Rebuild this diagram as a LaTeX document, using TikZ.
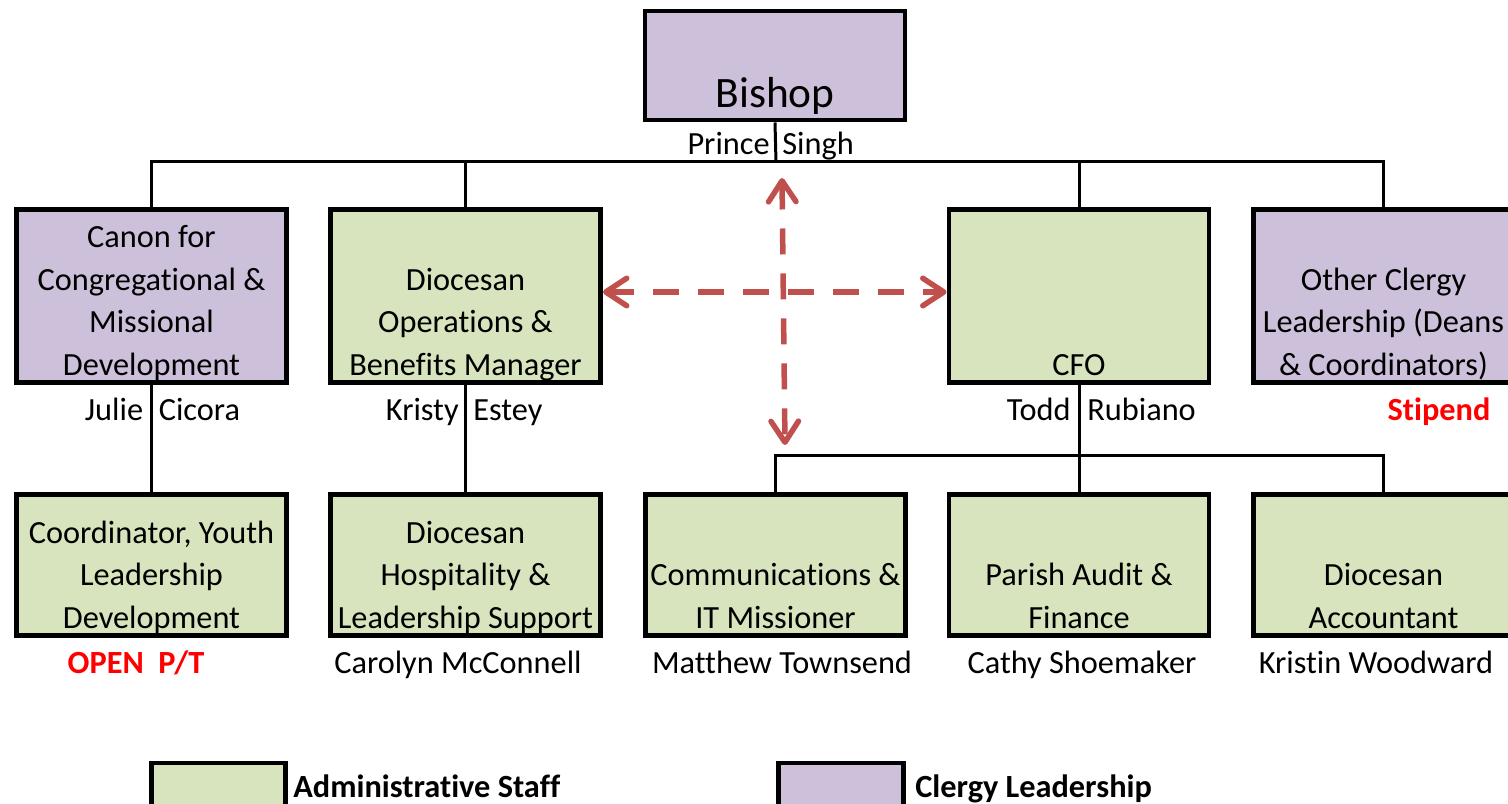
\documentclass[tikz,border=0pt]{standalone}
\usepackage{fontspec}
\setmainfont{Carlito}[Ligatures=NoCommon]
\usetikzlibrary{positioning}
\usetikzlibrary{arrows.meta}

\definecolor{adminfill}{HTML}{D7E4BD}
\definecolor{clergyfill}{HTML}{CCC0DA}
\definecolor{linkred}{HTML}{C0504D}
\definecolor{notered}{HTML}{FF0000}

\newcommand{\boxfont}{\fontsize{18.4}{24.4}\selectfont}
\newcommand{\bigfont}{\fontsize{24.7}{26}\selectfont}
\newcommand{\keyfont}{\fontsize{18.4}{22}\selectfont\bfseries}

\begin{document}
\begin{tikzpicture}[x=0.02cm, y=-0.02cm,
			unit/.style={draw, line width=0.09cm, inner sep=0pt, minimum width=5.41cm, minimum height=3.47cm},
			narrow/.style={unit, minimum width=5.21cm},
			low/.style={minimum height=2.83cm},
			admin/.style={fill=adminfill},
			clergy/.style={fill=clergyfill},
			title/.style={anchor=south, align=center, inner sep=0pt, yshift=-0.08cm, font=\boxfont, execute at end node=\strut},
			person/.style={anchor=base, inner sep=0pt, font=\boxfont},
			vacant/.style={person, font=\boxfont\bfseries, text=notered},
			conn/.style={draw, line width=0.06cm},
			link/.style={draw=linkred, line width=0.11cm, dash pattern=on 0.52cm off 0.38cm,
				{Straight Barb[round,length=0.42cm,width=0.55cm]}-{Straight Barb[round,length=0.42cm,width=0.55cm]}}]
			\useasboundingbox (0,0) rectangle (1508,804);
			% top
			\node[narrow, clergy, minimum height=2.19cm, label={[title, font=\bigfont, yshift=0.1cm]south:Bishop}] (bishop) at (775,65.5) {};
			% first row
			\node[unit, clergy, label={[title]south:{Canon for\\Congregational \&\\Missional\\Development}}] (canon) at (151.5,296) {};
			\node[unit, admin, label={[title]south:{Diocesan\\Operations \&\\Benefits Manager}}] (ops) at (465.5,296) {};
			\node[narrow, admin, label={[title]south:{CFO}}] (cfo) at (1079,296) {};
			\node[narrow, clergy, label={[title]south:{Other Clergy\\Leadership (Deans\\\& Coordinators)}}] (other) at (1383.5,296) {};
			% second row
			\node[unit, low, admin, label={[title]south:{Coordinator, Youth\\Leadership\\Development}}] (youth) at (151.5,565) {};
			\node[unit, low, admin, label={[title]south:{Diocesan\\Hospitality \&\\Leadership Support}}] (hosp) at (465.5,565) {};
			\node[narrow, low, admin, label={[title]south:{Communications \&\\IT Missioner}}] (comm) at (775.5,565) {};
			\node[narrow, low, admin, label={[title]south:{Parish Audit \&\\Finance}}] (audit) at (1079,565) {};
			\node[narrow, low, admin, label={[title]south:{Diocesan\\Accountant}}] (acct) at (1383.5,565) {};
			% connectors
			\coordinate (bus) at (776,162);
			\coordinate (bus2) at (1079,455);
			\path[conn] (bishop.south) -- (bus);
			\path[conn] (canon.north) |- (bus) -| (other.north);
			\path[conn] (ops.north) -- (ops.north |- bus);
			\path[conn] (cfo.north) -- (cfo.north |- bus);
			\path[conn] (canon) -- (youth);
			\path[conn] (ops) -- (hosp);
			\path[conn] (cfo) -- (audit);
			\path[conn] (comm.north) |- (bus2) -| (acct.north);
			% dashed links
			\coordinate (uptip) at (782,178);
			\coordinate (downtip) at (785,445);
			\path[link] ([yshift=0.08cm]ops.east) -- ([yshift=0.08cm]cfo.west);
			\path[link] (uptip) -- (downtip);
			% names
			\node[person, anchor=base east] (prince) at (770,155) {Prince};
			\node[person, anchor=base west] (singh) at (782,155) {Singh};
			\node[person, anchor=base east] (julie) at (143.5,420) {Julie};
			\node[person, anchor=base west] (cicora) at (158.5,420) {Cicora};
			\node[person, anchor=base east] (kristy) at (459,420) {Kristy};
			\node[person, anchor=base west] (estey) at (473,420) {Estey};
			\node[person, anchor=base east] (todd) at (1071,420) {Todd};
			\node[person, anchor=base west] (rubiano) at (1087,420) {Rubiano};
			\node[vacant] (stipend) at (1439,420) {Stipend};
			\node[vacant] (open) at (136,673) {OPEN\ \ P/T};
			\node[person] (carolyn) at (458,673) {Carolyn McConnell};
			\node[person] (matthew) at (782,673) {Matthew Townsend};
			\node[person] (cathy) at (1082,673) {Cathy Shoemaker};
			\node[person] (kristin) at (1376,673) {Kristin Woodward};
			% key
			\node[draw, line width=0.09cm, admin, minimum width=2.69cm, minimum height=1.2cm] (keyadmin) at (218.5,793) {};
			\node[anchor=base west, inner sep=0pt, font=\keyfont] (keyadmintext) at (293,797) {Administrative Staff};
			\node[draw, line width=0.09cm, clergy, minimum width=2.51cm, minimum height=1.2cm] (keyclergy) at (841,793) {};
			\node[anchor=base west, inner sep=0pt, font=\keyfont] (keyclergytext) at (915,797) {Clergy Leadership};
	\end{tikzpicture}
\end{document}
